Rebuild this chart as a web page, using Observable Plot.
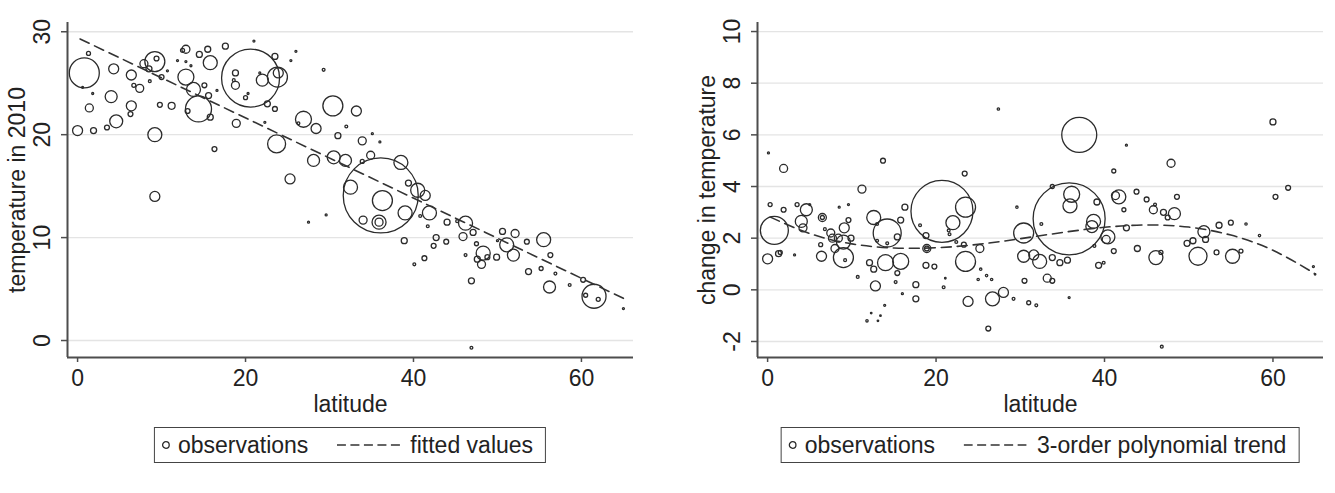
<!DOCTYPE html>
<html>
<head>
<meta charset="utf-8">
<script src="https://cdn.jsdelivr.net/npm/d3@7"></script>
<script src="https://cdn.jsdelivr.net/npm/@observablehq/plot@0.6"></script>
<style>
  body { margin: 0; background: #fff; font-family: "Liberation Sans", Arial, sans-serif; }
  #wrap { position: relative; width: 1335px; height: 493px; overflow: hidden; }
  .panel { position: absolute; top: 0; }
  .legend {
    position: absolute; top: 427px; height: 36px; transform: translateX(-50%);
    box-sizing: border-box; border: 1.5px solid #444; background: #fff;
    display: flex; align-items: center; white-space: nowrap;
    font-size: 23px; color: #222; padding: 0 12px 0 6px;
  }
  .legend svg { display: block; }
</style>
</head>
<body>
<div id="wrap"></div>
<script>
// Latitude ticks shared by both panels
const xTicks = [0, 20, 40, 60];

// Left panel: temperature in 2010 vs latitude, marker weight = country weight
const latL = [
  0.8,1.3,0.6,0.0,1.4,1.9,1.8,4.3,4.0,4.6,
  3.5,6.4,6.4,6.3,7.4,6.7,7.9,8.5,9.2,9.4,
  8.6,10.0,10.7,9.8,11.2,9.2,12.9,12.5,11.9,12.9,
  13.5,12.9,13.8,14.4,13.1,14.5,15.8,15.5,15.1,15.6,
  15.8,16.3,17.6,16.6,18.8,18.8,18.6,18.9,20.6,21.0,
  20.0,20.3,22.0,21.7,23.8,23.9,23.5,22.6,23.5,22.3,
  25.4,26.0,23.7,25.3,26.9,26.3,28.1,28.4,29.3,30.4,
  30.5,31.0,9.2,27.5,29.6,33.2,32.0,33.9,35.1,36.0,
  31.9,33.9,34.9,38.5,36.1,32.5,36.3,35.9,35.9,34.0,
  39.0,39.4,40.5,41.4,41.9,40.8,38.9,40.1,41.3,41.7,
  42.4,42.7,44.0,43.9,45.2,46.2,45.9,47.1,46.2,47.5,
  48.3,47.6,48.1,48.8,49.9,46.9,46.9,50.6,51.1,52.1,
  51.9,50.0,53.5,53.7,55.2,55.5,56.3,56.9,56.2,58.6,
  60.2,61.5,60.5,62.0,65.0
];
const tempL = [
  26.0,27.9,24.6,20.4,22.6,20.4,24.0,26.4,23.7,21.3,
  20.7,25.8,22.8,22.0,24.5,24.8,26.9,26.4,27.1,27.4,
  25.2,25.6,26.2,22.9,22.8,20.0,28.3,28.2,27.2,27.1,
  26.7,25.6,24.4,22.5,22.3,27.8,27.0,28.3,24.8,23.8,
  21.7,18.6,28.6,24.3,26.0,24.8,25.3,21.1,25.5,29.1,
  23.6,24.0,25.3,26.0,25.6,26.0,27.6,23.0,22.5,21.2,
  27.2,28.1,19.1,15.7,21.5,21.1,17.5,20.6,26.3,22.8,
  17.8,19.9,14.0,11.5,12.2,22.3,20.8,19.4,20.1,19.3,
  17.5,17.4,18.0,17.3,14.1,14.9,13.6,11.5,11.5,11.7,
  12.4,15.3,14.6,14.1,12.4,12.1,9.7,7.4,8.0,11.1,
  9.2,10.0,11.5,9.6,11.6,11.4,10.1,10.5,8.3,9.4,
  8.5,7.9,7.4,8.1,8.1,5.8,-0.7,10.6,9.3,10.4,
  8.3,9.7,9.6,6.7,7.0,9.8,8.3,6.5,5.2,5.4,
  5.9,4.3,4.4,4.0,3.1
];
const weightL = [
  225,4,1,25,16,9,1,25,36,42,
  6,25,25,6,16,4,16,9,100,6,
  2,6,1,6,12,49,16,4,1,1,
  1,64,49,169,6,9,49,9,6,9,
  9,6,9,1,9,16,2,16,841,1,
  4,1,36,1,100,25,9,9,6,1,
  1,1,81,25,64,2,36,25,2,100,
  42,9,25,1,1,25,2,16,1,1,
  36,4,16,49,1406,49,100,49,16,16,
  49,9,49,25,49,2,9,2,6,2,
  6,9,9,6,2,49,16,9,2,4,
  49,9,16,6,9,9,2,9,49,16,
  36,1,6,9,4,49,6,2,36,2,
  6,144,4,4,1
];
// Linear fit of temperature on latitude
const fitLat = [0.3, 65.0];
const fitTemp = [29.3, 4.1];
const yTicksL = [0, 10, 20, 30];

// Right panel: change in temperature vs latitude
const latR = [
  0.1,1.9,11.2,13.7,23.4,27.4,37.0,60.0,42.6,47.9,
  41.1,61.8,0.8,0.0,1.3,1.5,0.3,1.9,3.2,3.5,
  4.6,4.0,4.2,5.0,6.5,6.5,6.3,6.4,6.8,7.5,
  7.7,8.0,8.4,9.1,9.0,9.0,9.2,9.9,9.6,8.5,
  9.6,10.7,12.6,14.2,13.0,12.1,12.6,14.0,15.8,12.8,
  13.0,14.2,15.4,15.8,16.3,15.4,15.2,16.0,11.8,13.1,
  12.3,13.4,13.9,17.6,17.6,18.8,19.8,18.9,18.9,18.8,
  18.1,20.7,23.5,22.0,21.5,21.6,20.9,21.1,22.4,23.3,
  23.5,25.2,25.3,26.0,26.6,25.0,23.8,26.7,28.0,29.2,
  26.2,29.6,30.4,31.0,31.9,30.5,33.2,33.8,30.4,31.6,
  32.3,33.8,34.7,35.6,35.8,32.5,33.8,35.8,36.1,35.9,
  39.1,38.7,38.5,38.8,39.3,39.9,40.4,40.2,41.1,41.7,
  41.3,42.3,42.6,43.8,43.9,45.0,45.8,46.0,46.1,46.7,
  46.8,47.0,47.5,48.3,48.6,49.8,50.5,51.1,51.8,52.0,
  53.3,53.6,55.0,55.2,56.2,56.8,58.4,60.3,64.8,65.0
];
const changeR = [
  5.3,4.7,3.9,5.0,4.5,7.0,6.0,6.5,5.6,4.9,
  4.6,3.95,2.3,1.2,1.4,1.45,3.3,3.1,1.35,3.3,
  3.1,2.65,2.4,3.3,2.8,2.8,1.75,1.3,2.35,2.2,
  2.0,1.6,2.0,2.4,1.85,1.25,1.15,2.0,2.7,3.2,
  3.3,0.5,2.8,2.2,2.55,1.05,0.8,1.05,1.1,0.15,
  1.9,1.8,2.05,2.7,3.2,0.65,0.3,-0.15,-1.2,-1.2,
  -0.9,-1.0,-0.6,0.2,-0.35,0.95,0.9,1.6,1.6,2.1,
  2.5,3.04,3.2,2.6,2.3,2.15,0.1,0.45,1.85,1.75,
  1.1,1.6,0.8,0.55,0.4,0.4,-0.45,-0.35,-0.1,-0.35,
  -1.5,3.2,2.2,-0.5,-0.6,0.35,0.45,0.35,1.3,1.35,
  1.1,1.25,1.05,1.15,-0.3,2.55,4.0,2.75,3.7,3.25,
  3.4,2.65,2.45,1.7,0.95,1.05,2.05,1.95,1.5,3.6,
  3.65,3.1,2.4,3.8,1.6,3.5,3.1,3.3,1.25,1.45,
  -2.2,3.0,2.8,2.95,3.6,1.8,1.9,1.3,2.25,1.95,
  1.45,2.5,2.6,1.3,1.5,2.55,2.1,3.6,0.9,0.6
];
const weightR = [
  1,16,16,6,6,1.4,306,9,1,16,
  4,6,196,25,9,4,4,6,1,4,
  36,36,16,1,16,4,4,25,2,16,
  16,16,16,25,49,100,2,9,6,1,
  1,2,49,196,2,9,9,64,64,25,
  2,2,9,9,9,6,2,1,1.4,0.6,
  0.6,0.6,1,9,9,9,6,16,6,9,
  2,961,100,49,2,2,2,0.6,2,6,
  100,16,1.4,1.4,1.4,1.4,25,49,25,2,
  6,1.4,100,4,2,6,16,6,36,25,
  49,9,9,9,1,2,4,1296,64,49,
  9,49,36,2,9,2,49,16,6,49,
  16,4,9,6,9,6,16,2,49,4,
  2,9,6,36,6,9,9,81,36,9,
  6,9,6,49,4,1.4,1.4,6,1,0.6
];
// Cubic polynomial trend of the change in temperature
const trendLat = [0.3, 5, 10, 15, 20, 25, 30, 35, 40, 45, 50, 55, 60, 65];
const trendChange = [2.82, 2.18, 1.78, 1.62, 1.63, 1.76, 1.98, 2.22, 2.42, 2.51, 2.43, 2.12, 1.53, 0.62];
const yTicksR = [-2, 0, 2, 4, 6, 8, 10];

const FONT = "Liberation Sans, Arial, sans-serif";
const INK = "#222";
const AXIS = "#4d4d4d";

function panel({lat, val, weight, lineLat, lineVal, xDomain, yDomain, yTicks, yLabel, width, marginLeft, marginRight}) {
  const pts = lat.map((x, i) => ({x, y: val[i], w: weight[i]}));
  const line = lineLat.map((x, i) => ({x, y: lineVal[i]}));
  return Plot.plot({
    width, height: 415,
    marginLeft, marginRight, marginTop: 22, marginBottom: 58,
    x: {domain: xDomain},
    y: {domain: yDomain},
    r: {type: "sqrt", domain: [0, 1600], range: [0, 40]},
    style: {fontFamily: FONT, fontSize: "23px", color: INK, background: "#fff", overflow: "visible"},
    marks: [
      Plot.gridY(yTicks, {stroke: "#e4e4e4", strokeOpacity: 1, strokeWidth: 1.3}),
      Plot.dot(pts, {x: "x", y: "y", r: "w", fill: "none", stroke: "#2b2b2b", strokeWidth: 1.3}),
      Plot.line(line, {x: "x", y: "y", stroke: "#333", strokeWidth: 1.6, strokeDasharray: "10,6", curve: "natural"}),
      Plot.ruleX([xDomain[0]], {stroke: AXIS, strokeWidth: 2}),
      Plot.ruleY([yDomain[0]], {stroke: AXIS, strokeWidth: 2}),
      Plot.axisY({ticks: yTicks, tickSize: 6, tickFormat: () => "", stroke: AXIS, strokeWidth: 1.5, label: null}),
      Plot.axisX({ticks: xTicks, tickSize: 5, tickPadding: 7, stroke: AXIS, strokeWidth: 1.5, fill: INK, fontSize: 23, label: null}),
      Plot.text(yTicks, {y: d => d, text: d => String(d), frameAnchor: "left", rotate: -90, dx: -25, textAnchor: "middle", lineAnchor: "middle", fill: INK, fontSize: 23}),
      Plot.text([yLabel], {text: d => d, frameAnchor: "left", rotate: -90, dx: -50, textAnchor: "middle", lineAnchor: "middle", fill: INK, fontSize: 23}),
      Plot.text(["latitude"], {text: d => d, frameAnchor: "bottom", dy: 47, textAnchor: "middle", lineAnchor: "middle", fill: INK, fontSize: 23})
    ]
  });
}

function legend(centerX, trendText) {
  const div = document.createElement("div");
  div.className = "legend";
  div.style.left = centerX + "px";
  div.innerHTML =
    `<svg width="10" height="10" style="margin-right:7px"><circle cx="5" cy="5" r="3.3" fill="none" stroke="#2b2b2b" stroke-width="1.3"/></svg>` +
    `<span>observations</span>` +
    `<svg width="63" height="6" style="margin:0 10px 0 29px"><line x1="0" y1="3" x2="63" y2="3" stroke="#333" stroke-width="1.6" stroke-dasharray="9,4.5"/></svg>` +
    `<span>${trendText}</span>`;
  return div;
}

const wrap = document.getElementById("wrap");

const left = panel({
  lat: latL, val: tempL, weight: weightL,
  lineLat: fitLat, lineVal: fitTemp,
  xDomain: [-1.2, 66.2], yDomain: [-1.65, 30.9], yTicks: yTicksL,
  yLabel: "temperature in 2010",
  width: 667, marginLeft: 67, marginRight: 34
});
left.classList.add("panel");
left.style.left = "0px";
wrap.appendChild(left);

const right = panel({
  lat: latR, val: changeR, weight: weightR,
  lineLat: trendLat, lineVal: trendChange,
  xDomain: [-1.2, 66.0], yDomain: [-2.62, 10.35], yTicks: yTicksR,
  yLabel: "change in temperature",
  width: 668, marginLeft: 90, marginRight: 12
});
right.classList.add("panel");
right.style.left = "667px";
wrap.appendChild(right);

wrap.appendChild(legend(350, "fitted values"));
wrap.appendChild(legend(1040, "3-order polynomial trend"));
</script>
</body>
</html>
